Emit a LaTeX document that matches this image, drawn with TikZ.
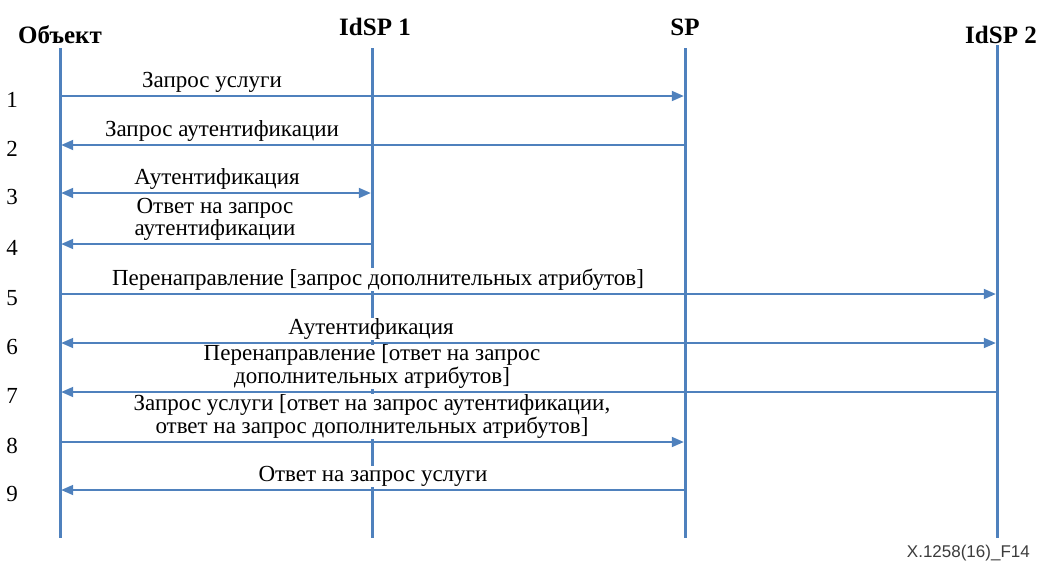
\documentclass[tikz,border=0pt]{standalone}
\usepackage{fontspec}
\setmainfont{Liberation Serif}
\newfontfamily\figsans{Liberation Sans}
\usetikzlibrary{arrows.meta}
\definecolor{lifeblue}{RGB}{79,129,189}
\definecolor{tagtext}{RGB}{60,60,60}
\begin{document}
\begin{tikzpicture}[x=1pt,y=-1pt,
  lifeline/.style={draw=lifeblue, line width=3pt},
  tip/.tip={Triangle[length=12pt,width=10pt]},
  msg/.style={draw=lifeblue, line width=1.8pt, -tip, shorten >=1.2pt},
  both/.style={draw=lifeblue, line width=1.8pt, tip-tip, shorten >=1.2pt, shorten <=1.2pt},
  actor/.style={font=\bfseries\fontsize{25}{27}\selectfont, inner sep=0pt},
  lbl/.style={font=\fontsize{23}{20.5}\selectfont, fill=white, inner sep=0.5pt, align=center, anchor=south},
  stepnum/.style={font=\fontsize{23}{25}\selectfont, inner sep=0pt}]
\useasboundingbox (0,0) rectangle (1041,563);

% participants
\node[actor] (hobj) at (60,35) {Объект};
\node[actor] (hid1) at (375,27) {IdSP 1};
\node[actor] (hsp)  at (685,27) {SP};
\node[actor] (hid2) at (1001,35) {IdSP 2};

% lifeline ends
\coordinate (obj)  at (60,48);   \coordinate (objend) at (60,538);
\coordinate (id1)  at (372,48);  \coordinate (id1end) at (372,538);
\coordinate (sp)   at (685,48);  \coordinate (spend)  at (685,538);
\coordinate (id2)  at (997,45);  \coordinate (id2end) at (997,538);

\draw[lifeline] (obj) -- (objend);
\draw[lifeline] (id1) -- (id1end);
\draw[lifeline] (sp) -- (spend);
\draw[lifeline] (id2) -- (id2end);

% message rows
\foreach \i/\y in {1/96,2/145,3/193,4/244,5/294,6/343,7/392,8/442,9/490}{
  \coordinate (r\i) at (0,\y);
  \node[stepnum] (n\i) at (12,\y+4) {\i};
}

\draw[msg]  (obj |- r1) -- (sp |- r1);
\draw[msg]  (sp |- r2)  -- (obj |- r2);
\draw[both] (obj |- r3) -- (id1 |- r3);
\draw[msg]  (id1 |- r4) -- (obj |- r4);
\draw[msg]  (obj |- r5) -- (id2 |- r5);
\draw[both] (obj |- r6) -- (id2 |- r6);
\draw[msg]  (id2 |- r7) -- (obj |- r7);
\draw[msg]  (obj |- r8) -- (sp |- r8);
\draw[msg]  (sp |- r9)  -- (obj |- r9);

% message labels
\node[lbl] (l1) at (212,93)  {Запрос услуги};
\node[lbl] (l2) at (222,142) {Запрос аутентификации};
\node[lbl] (l3) at (217,190) {Аутентификация};
\node[lbl] (l4) at (215,241) {Ответ на запрос\\аутентификации};
\node[lbl] (l5) at (378,291) {Перенаправление [запрос дополнительных атрибутов]};
\node[lbl] (l6) at (371,340) {Аутентификация};
\node[lbl] (l7) at (372,389) {Перенаправление [ответ на запрос\\дополнительных атрибутов]};
\node[lbl] (l8) at (372,439) {Запрос услуги [ответ на запрос аутентификации,\\ответ на запрос дополнительных атрибутов]};
\node[lbl] (l9) at (373,487) {Ответ на запрос услуги};

% figure tag
\node[font=\figsans\fontsize{17}{18}\selectfont, text=tagtext, anchor=east, inner sep=0pt] (tag) at (1030,553) {X.1258(16)\_F14};
\end{tikzpicture}
\end{document}
